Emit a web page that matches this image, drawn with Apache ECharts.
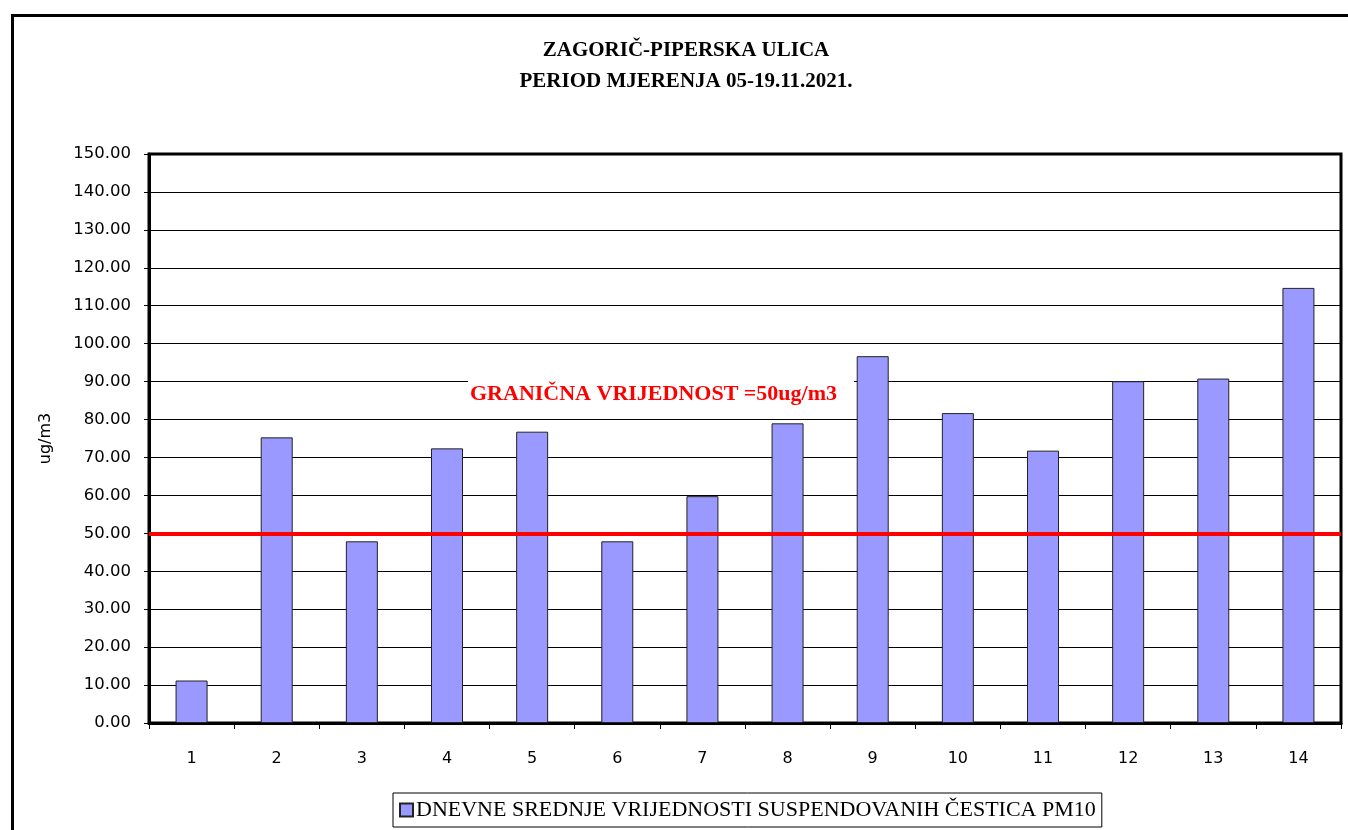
<!DOCTYPE html>
<html>
<head>
<meta charset="utf-8">
<script src="https://cdn.jsdelivr.net/npm/echarts@6/dist/echarts.min.js"></script>
<style>
html,body{margin:0;padding:0;background:#fff;}
#chart{width:1348px;height:830px;}
</style>
</head>
<body>
<div id="chart"></div>
<script>
const titleLines = ['ZAGORIČ-PIPERSKA ULICA', 'PERIOD MJERENJA 05-19.11.2021.'];
const categories = ['1','2','3','4','5','6','7','8','9','10','11','12','13','14'];
const pm10Values = [11.2, 75.3, 47.9, 72.4, 76.8, 47.9, 59.8, 79.0, 96.7, 81.7, 71.8, 90.1, 90.8, 114.7];
const seriesName = 'DNEVNE SREDNJE VRIJEDNOSTI SUSPENDOVANIH ČESTICA PM10';
const limitValue = 50;
const limitLabel = 'GRANIČNA VRIJEDNOST =50ug/m3';
const yAxisName = 'ug/m3';
const yMin = 0, yMax = 150, yStep = 10;

const chart = echarts.init(document.getElementById('chart'), null, {renderer: 'canvas'});
const serif = '"Liberation Serif", "Times New Roman", serif';
const sans = '"DejaVu Sans", Verdana, sans-serif';

chart.setOption({
  animation: false,
  backgroundColor: '#fff',
  title: {
    text: titleLines.join('\n'),
    left: 681, top: 30, textAlign: 'center',
    textStyle: {fontFamily: serif, fontWeight: 'bold', fontSize: 21, color: '#000', lineHeight: 31}
  },
  grid: {
    left: 149, right: 7, top: 154, bottom: 107,
    show: true, borderColor: '#000', borderWidth: 3, backgroundColor: 'transparent'
  },
  legend: {
    left: 393, top: 793,
    data: [seriesName],
    icon: 'rect', itemWidth: 13, itemHeight: 13, itemGap: 4,
    padding: [6, 6, 6, 6],
    borderColor: '#000', borderWidth: 1,
    textStyle: {fontFamily: serif, fontSize: 22, color: '#000', padding: [0,0,0,-2]}
  },
  xAxis: {
    type: 'category', data: categories,
    axisLine: {show: true, lineStyle: {color: '#000', width: 3}},
    axisTick: {show: true, length: 6, lineStyle: {color: '#000', width: 1}},
    axisLabel: {fontFamily: sans, fontSize: 16, color: '#000', margin: 28}
  },
  yAxis: {
    type: 'value', min: yMin, max: yMax, interval: yStep,
    name: yAxisName, nameLocation: 'middle', nameGap: 95,
    nameTextStyle: {fontFamily: sans, fontSize: 16, color: '#000'},
    axisLine: {show: true, lineStyle: {color: '#000', width: 3}},
    axisTick: {show: true, length: 5, lineStyle: {color: '#000', width: 1}},
    axisLabel: {fontFamily: sans, fontSize: 16.5, color: '#000', margin: 18,
      formatter: v => v.toFixed(2)},
    splitLine: {show: true, lineStyle: {color: '#000', width: 1}}
  },
  series: [{
    name: seriesName, type: 'bar', data: pm10Values,
    barWidth: 32,
    itemStyle: {color: '#9999FF', borderColor: '#222', borderWidth: 1},
    markLine: {
      silent: true, symbol: 'none',
      lineStyle: {color: '#FF0000', width: 4, type: 'solid'},
      label: {show: false},
      data: [{yAxis: limitValue}]
    }
  }],
  graphic: [
    {type: 'rect', z: 100, shape: {x: 12.5, y: 15.5, width: 1400, height: 900},
     style: {fill: 'none', stroke: '#000', lineWidth: 3}},
    {type: 'text', z: 50, x: 468, y: 381,
     style: {text: limitLabel, fill: '#FF0000', font: 'bold 22px ' + serif,
       backgroundColor: '#fff', padding: [2, 17, 2, 2]}}
  ]
});
</script>
</body>
</html>
